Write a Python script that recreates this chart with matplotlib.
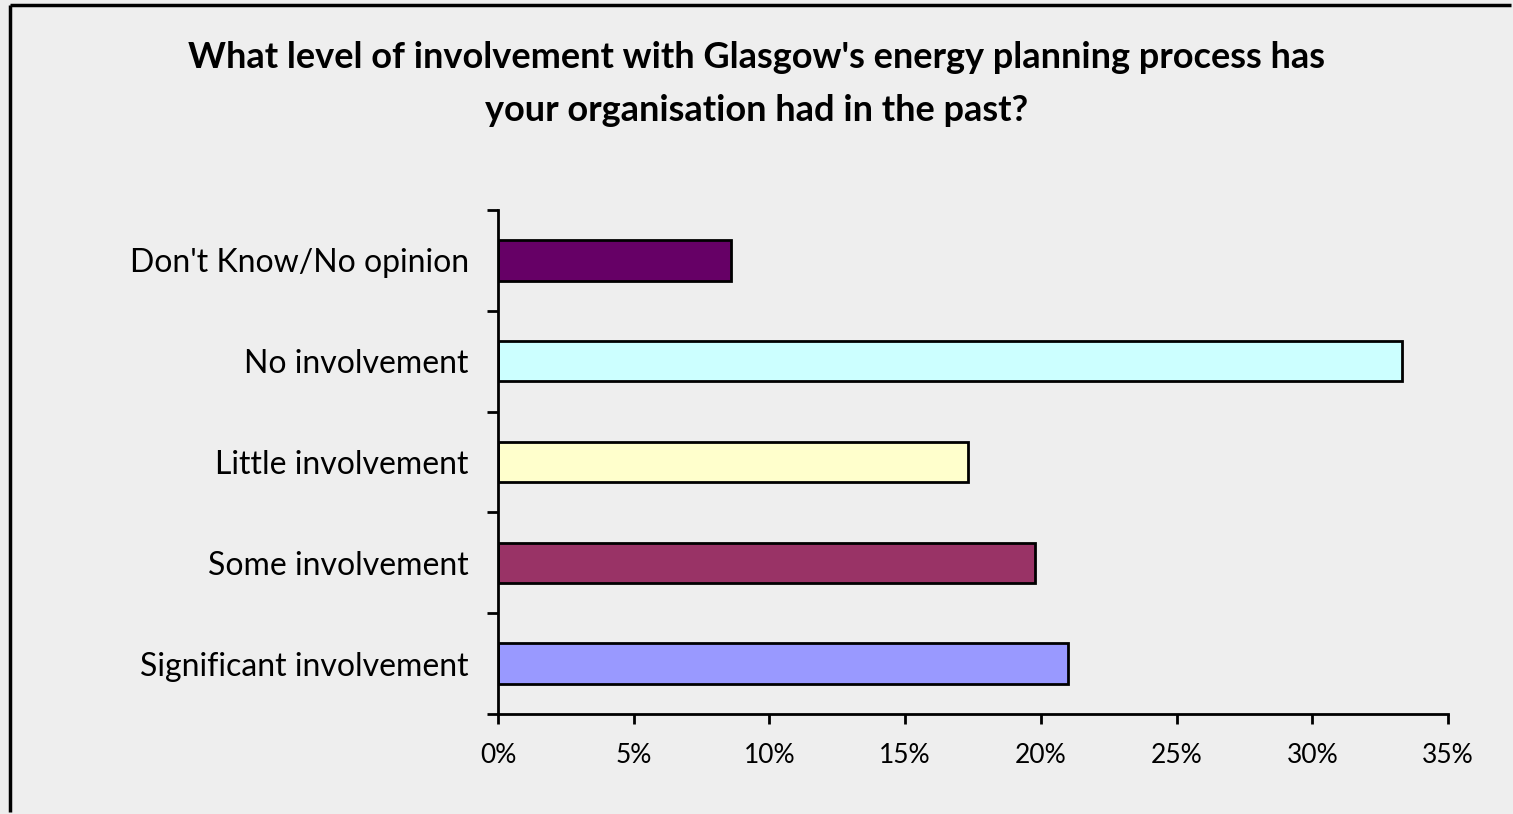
import matplotlib.pyplot as plt
from matplotlib.lines import Line2D
from matplotlib.ticker import FuncFormatter, MultipleLocator

plt.rcParams['font.family'] = ['Lato', 'DejaVu Sans']

# survey answers, bottom to top
categories = ['Significant involvement', 'Some involvement', 'Little involvement',
              'No involvement', "Don't Know/No opinion"]
shares = [21.0, 19.8, 17.3, 33.3, 8.6]
colors = ['#9999FF', '#993366', '#FFFFCC', '#CCFFFF', '#660066']

title = "What level of involvement with Glasgow's energy planning process has\nyour organisation had in the past?"

W, H = 1513, 814
bg = '#EEEEEE'

fig = plt.figure(figsize=(W/100, H/100), dpi=100, facecolor=bg)
# chart area frame: only top and left edges are inside the picture
fx, fy = 10/W, 1 - 5/H
fig.lines.append(Line2D([fx, fx], [2/H, fy], transform=fig.transFigure,
                        color='black', linewidth=2.5, solid_capstyle='butt'))
fig.lines.append(Line2D([fx, 1 - 2/W], [fy, fy], transform=fig.transFigure,
                        color='black', linewidth=2.5, solid_capstyle='butt'))

ax = fig.add_axes([498/W, (H-714)/H, (1448-498)/W, (714-210)/H])
ax.set_facecolor(bg)

ax.barh(range(len(categories)), shares, height=0.4, color=colors,
        edgecolor='black', linewidth=2)

ax.set_xlim(0, 35)
ax.set_ylim(-0.5, len(categories) - 0.5)
ax.xaxis.set_major_locator(MultipleLocator(5))
ax.xaxis.set_major_formatter(FuncFormatter(lambda v, p: '%d%%' % round(v)))

ax.set_yticks([i - 0.5 for i in range(len(categories) + 1)])
ax.set_yticklabels([])
ax.set_yticks(range(len(categories)), minor=True)
ax.set_yticklabels(categories, minor=True, fontsize=23)
ax.tick_params(axis='y', which='major', length=8, width=2, direction='out')
ax.tick_params(axis='y', which='minor', length=0, pad=21)
ax.tick_params(axis='x', length=7, width=2, direction='out', labelsize=19, pad=14)

for s in ['top', 'right']:
    ax.spines[s].set_visible(False)
for s in ['left', 'bottom']:
    ax.spines[s].set_linewidth(2)

fig.text(0.5, 1 - 84/H, title, ha='center', va='center', fontsize=26,
         fontweight='bold', linespacing=1.75)

fig.savefig('out.png', dpi=100, facecolor=bg)
